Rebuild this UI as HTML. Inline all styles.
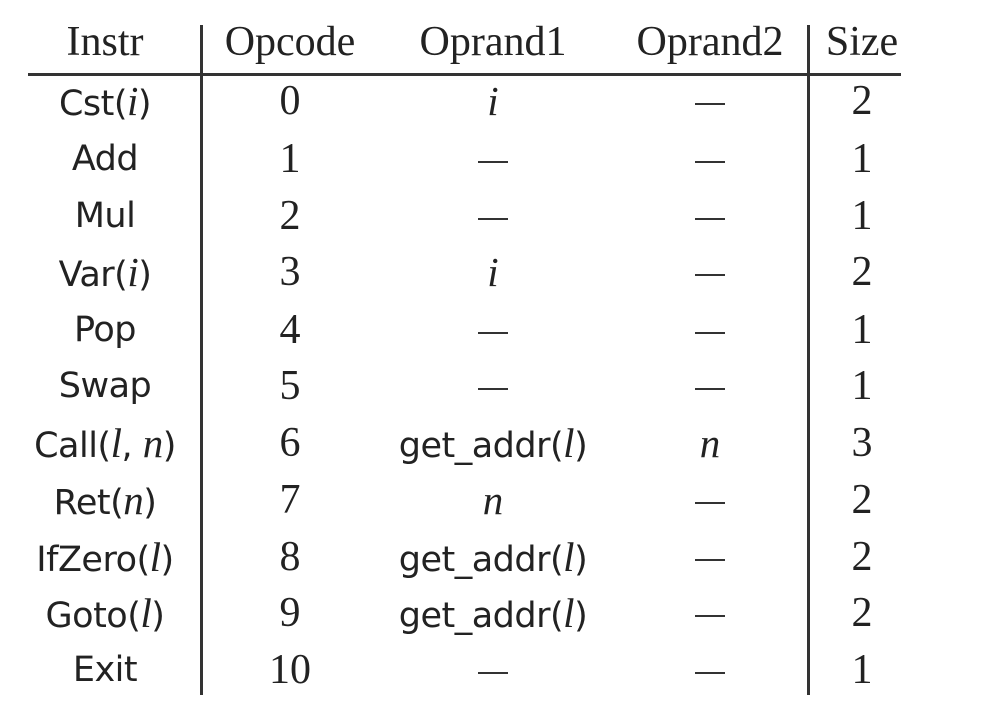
<!DOCTYPE html>
<html><head><meta charset="utf-8"><style>
html,body{margin:0;padding:0;background:#fff;}
body{width:993px;height:726px;position:relative;overflow:hidden;color:#222;}
.c{position:absolute;width:260px;text-align:center;height:56px;line-height:56px;font-family:"Liberation Serif",serif;font-size:42px;white-space:nowrap;}
.s{font-family:"DejaVu Sans","Liberation Sans",sans-serif;font-size:35px;letter-spacing:-0.5px;}
.i{font-style:italic;font-family:"Liberation Serif",serif;font-size:41px;}
.d{display:inline-block;width:30px;height:2px;background:#333;vertical-align:middle;}
.h{position:absolute;background:#333;}
</style></head><body>
<div class="h" style="left:28px;top:73px;width:873px;height:3px"></div>
<div class="h" style="left:200px;top:25px;width:3px;height:670px"></div>
<div class="h" style="left:807px;top:25px;width:3px;height:670px"></div>
<div id="t"></div>
<script>
const D='<span class="d"></span>';
const rows=[
["Instr","Opcode","Oprand1","Oprand2","Size",1],
['Cst(<span class="i">i</span>)',"0",'<span class="i">i</span>',D,"2"],
["Add","1",D,D,"1"],
["Mul","2",D,D,"1"],
['Var(<span class="i">i</span>)',"3",'<span class="i">i</span>',D,"2"],
["Pop","4",D,D,"1"],
["Swap","5",D,D,"1"],
['Call(<span class="i">l</span>, <span class="i">n</span>)',"6",'get_addr(<span class="i">l</span>)','<span class="i">n</span>',"3"],
['Ret(<span class="i">n</span>)',"7",'<span class="i">n</span>',D,"2"],
['IfZero(<span class="i">l</span>)',"8",'get_addr(<span class="i">l</span>)',D,"2"],
['Goto(<span class="i">l</span>)',"9",'get_addr(<span class="i">l</span>)',D,"2"],
["Exit","10",D,D,"1"]];
const xs=[105,290,493,710,862];
const ys=[42,101,159,216,272,330,386,443,500,557,613,670];
let h="";
rows.forEach((r,ri)=>{for(let k=0;k<5;k++){
 let cls="c"+((ri>0&&(k==0||(k==2&&r[k].startsWith("get"))))?" s":"");
 h+=`<div class="${cls}" style="left:${xs[k]-130}px;top:${ys[ri]-28}px">${r[k]}</div>`;}});
document.getElementById("t").innerHTML=h;
</script>
</body></html>
